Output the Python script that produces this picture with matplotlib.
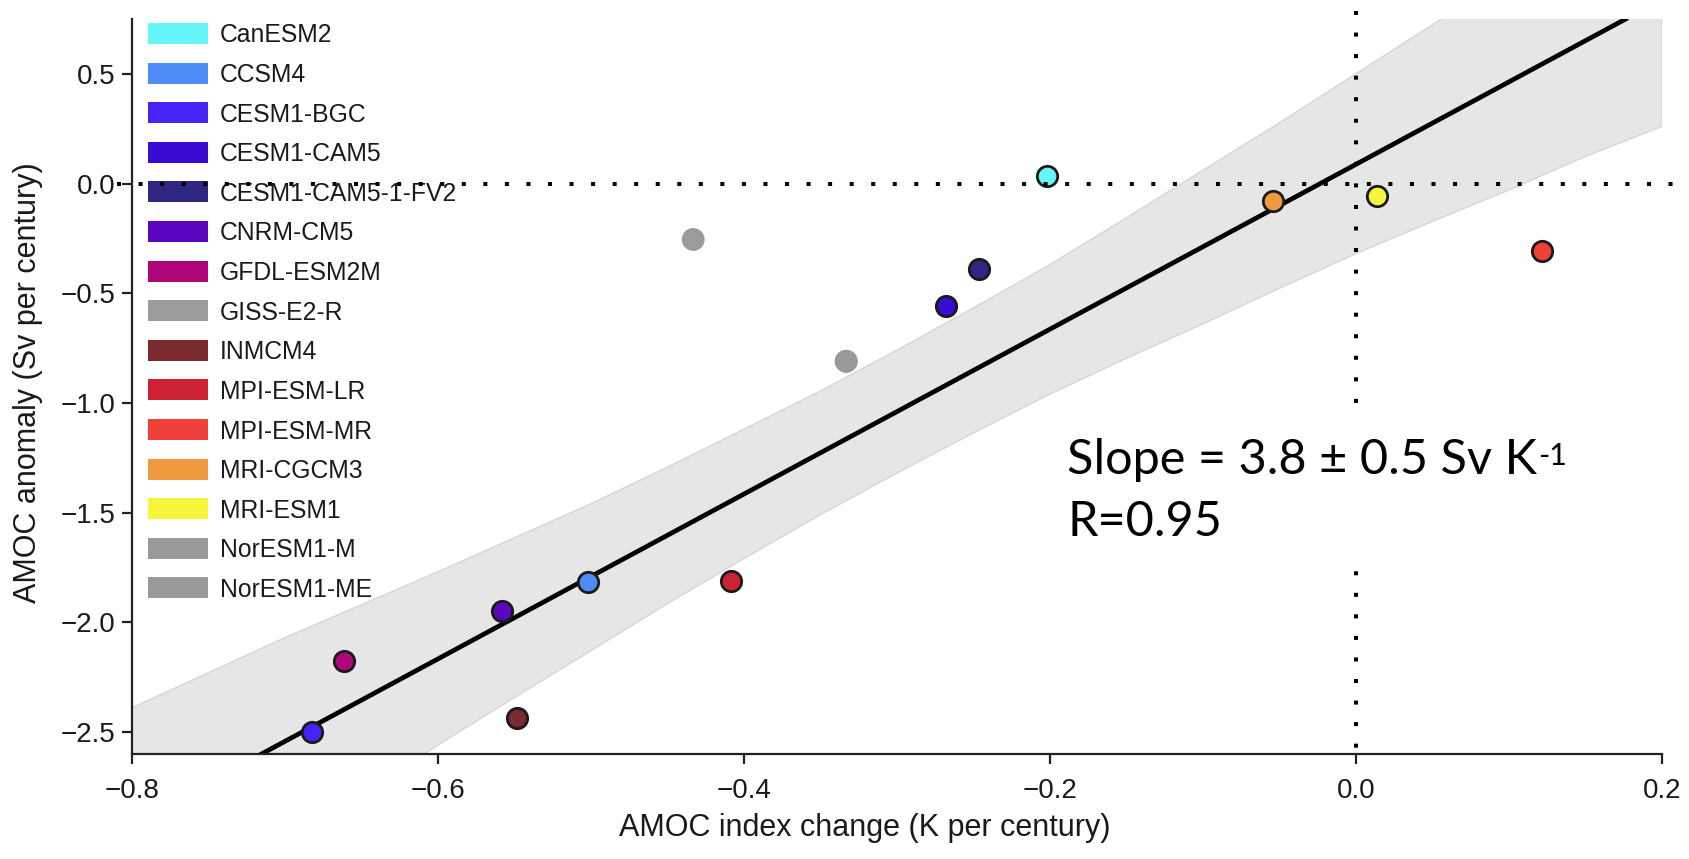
import matplotlib
matplotlib.use("Agg")
import matplotlib.pyplot as plt
from matplotlib.patches import Rectangle

# ---------------- data ----------------
models = ["CanESM2", "CCSM4", "CESM1-BGC", "CESM1-CAM5", "CESM1-CAM5-1-FV2",
          "CNRM-CM5", "GFDL-ESM2M", "GISS-E2-R", "INMCM4", "MPI-ESM-LR",
          "MPI-ESM-MR", "MRI-CGCM3", "MRI-ESM1", "NorESM1-M", "NorESM1-ME"]
colors = ["#66F6FA", "#4F8DF6", "#4524F6", "#3A0BD2", "#2F2682",
          "#5A06BE", "#AE0679", "#9B9B9B", "#7B2A2F", "#CC2234",
          "#EF4039", "#F09A40", "#F7F43C", "#999999", "#999999"]
amoc_index_change = [-0.202, -0.502, -0.682, -0.268, -0.246,
                     -0.558, -0.661, -0.433, -0.548, -0.408,
                     0.122, -0.054, 0.014, -0.333, -0.333]
amoc_anomaly = [0.033, -1.816, -2.50, -0.556, -0.39,
                -1.948, -2.176, -0.255, -2.434, -1.812,
                -0.308, -0.081, -0.055, -0.81, -0.81]
no_edge = ["GISS-E2-R", "NorESM1-M", "NorESM1-ME"]

fit_slope = 3.757
fit_intercept = 0.087
band_x = [-0.8, -0.75, -0.7, -0.65, -0.6, -0.55, -0.5, -0.45, -0.4, -0.35, -0.3,
          -0.25, -0.2, -0.15, -0.1, -0.05, 0.0, 0.05, 0.1, 0.15, 0.2]
band_upper = [-2.39, -2.23, -2.07, -1.92, -1.77, -1.615, -1.46, -1.293, -1.12, -0.946, -0.76,
              -0.567, -0.37, -0.157, 0.06, 0.276, 0.50, 0.723, 0.95, 1.179, 1.41]
band_lower = [-3.47, -3.243, -3.02, -2.788, -2.56, -2.343, -2.13, -1.915, -1.71, -1.51, -1.32,
              -1.137, -0.96, -0.797, -0.64, -0.478, -0.32, -0.173, -0.03, 0.123, 0.26]

xticks = [-0.8, -0.6, -0.4, -0.2, 0.0, 0.2]
xtick_labels = ["\u22120.8", "\u22120.6", "\u22120.4", "\u22120.2", "0.0", "0.2"]
yticks = [-2.5, -2.0, -1.5, -1.0, -0.5, 0.0, 0.5]
ytick_labels = ["\u22122.5", "\u22122.0", "\u22121.5", "\u22121.0", "\u22120.5", "0.0", "0.5"]

xlabel = "AMOC index change (K per century)"
ylabel = "AMOC anomaly (Sv per century)"
stat_line1 = "Slope = 3.8 \u00b1 0.5 Sv K"
stat_sup = "-1"
stat_line2 = "R=0.95"

# ---------------- figure ----------------
W, H = 1690, 859
plt.rcParams["font.family"] = ["Liberation Sans", "DejaVu Sans"]
fig = plt.figure(figsize=(W / 100, H / 100), dpi=100)
ax = fig.add_axes([131.7 / W, 1 - 754 / H, 1530 / W, (754 - 19) / H])
ax.set_xlim(-0.8, 0.2)
ax.set_ylim(-2.6, 0.75)

# confidence band
ax.fill_between(band_x, band_lower, band_upper, facecolor="#E6E6E6",
                edgecolor="#D6D6D6", linewidth=1.0, zorder=1)
# regression line
ax.axline((0, fit_intercept), slope=fit_slope, color="black", lw=3.4, zorder=2)

# points
for name, c, x, y in zip(models, colors, amoc_index_change, amoc_anomaly):
    if name in no_edge:
        ax.scatter([x], [y], s=270, c=c, edgecolors="none", zorder=3)
    else:
        ax.scatter([x], [y], s=215, c=c, edgecolors="#1a1a1a", linewidths=2.0, zorder=3)

# dotted zero lines (extend a little beyond the axes)
dot = (0, (1.0, 4.35))
ax.plot([-0.8096, 0.2185], [0, 0], color="black", lw=2.9, linestyle=dot,
        clip_on=False, zorder=5, dash_capstyle="butt")
ax.plot([0, 0], [0.785, -2.585], color="black", lw=2.9, linestyle=dot,
        clip_on=False, zorder=5, dash_capstyle="butt")

# white box behind statistics text
ax.add_patch(Rectangle((-0.205, -1.74), 0.34, 0.735, facecolor="white",
                       edgecolor="none", zorder=6))
t1 = ax.text(-0.1886, -1.323, stat_line1, fontfamily=["Lato", "DejaVu Sans"],
             fontsize=35, va="baseline", ha="left", zorder=7)
ax.annotate(stat_sup, xy=(1, 1), xycoords=t1, xytext=(1, -3),
            textcoords="offset points", fontfamily=["Lato", "DejaVu Sans"],
            fontsize=22, va="top", ha="left", zorder=7)
ax.text(-0.1886, -1.605, stat_line2, fontfamily=["Lato", "DejaVu Sans"],
        fontsize=35, va="baseline", ha="left", zorder=7)

# legend (manual, matching the reference layout)
for i, (name, c) in enumerate(zip(models, colors)):
    yc = 33.5 + 39.6 * i
    ax.add_patch(Rectangle((148 / W, 1 - (yc + 10.5) / H), 60 / W, 21 / H,
                           transform=fig.transFigure, facecolor=c,
                           edgecolor="none", clip_on=False, zorder=4))
    ax.text(220 / W, 1 - (yc + 9.0) / H, name, transform=fig.transFigure,
            fontsize=17.8, color="#1a1a1a", va="baseline", ha="left",
            clip_on=False, zorder=4)

# axes styling
for s in ["top", "right"]:
    ax.spines[s].set_visible(False)
for s in ["left", "bottom"]:
    ax.spines[s].set_color("#222222")
    ax.spines[s].set_linewidth(1.6)
ax.set_xticks(xticks)
ax.set_xticklabels(xtick_labels)
ax.set_yticks(yticks)
ax.set_yticklabels(ytick_labels)
ax.tick_params(axis="both", labelsize=20, length=7, width=1.6, color="#222222",
               labelcolor="#1a1a1a")
ax.tick_params(axis="x", pad=10)
ax.tick_params(axis="y", pad=5)

ax.set_xlabel(xlabel, fontsize=22, color="#1a1a1a", va="center")
ax.xaxis.set_label_coords(0.479, -0.1007)
ax.set_ylabel(ylabel, fontsize=22, color="#1a1a1a", va="center")
ax.yaxis.set_label_coords(-0.0678, 0.505)

fig.savefig("out.png", dpi=100)
